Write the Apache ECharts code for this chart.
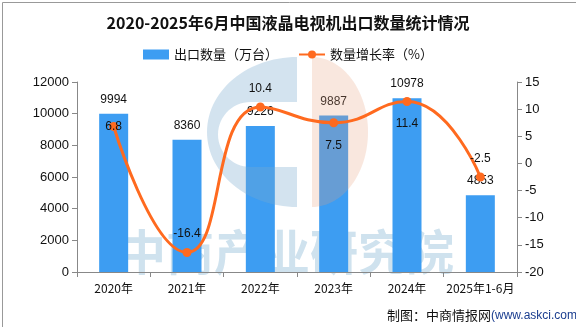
<!DOCTYPE html>
<html><head><meta charset="utf-8">
<script src="https://cdn.jsdelivr.net/npm/echarts@6/dist/echarts.min.js"></script>
<style>html,body{margin:0;padding:0;background:#fff}#c{width:576px;height:327px}</style>
</head><body><div id="c"></div>
<script>
var categories = ['2020年','2021年','2022年','2023年','2024年','2025年1-6月'];
var exportQty = [9994, 8360, 9226, 9887, 10978, 4853];
var growthRate = [6.8, -16.4, 10.4, 7.5, 11.4, -2.5];
var rateLabelPos = ['inside','top','top','bottom','bottom','top'];
var leftTicks = [0, 12000, 2000];
var rightTicks = [-20, 15, 5];

// decorative watermark logo outlines
function arcPts(cx, cy, rx, ry, a0, a1, n) {
  var p = [];
  for (var i = 0; i <= n; i++) {
    var a = a0 + (a1 - a0) * i / n;
    p.push([cx + rx * Math.cos(a), cy + ry * Math.sin(a)]);
  }
  return p;
}
var bluePts = [].concat(
  arcPts(297, 132, 90, 75, -Math.PI / 2, -Math.PI * 1.5, 60),
  [[297, 207], [297, 167], [250.5, 167]],
  arcPts(250.5, 134.5, 32.5, 32.5, Math.PI / 2, Math.PI * 1.5, 30),
  [[297, 102]]
);
var peachPts = arcPts(312, 132, 56, 75, -Math.PI / 2, Math.PI / 2, 60);

var chart = echarts.init(document.getElementById('c'), null, {renderer:'canvas'});
var font = '"Liberation Sans", "Noto Sans CJK SC", sans-serif';
var cjk = '"Noto Sans CJK SC", sans-serif';
var option = {
  backgroundColor:'#fff',
  animation:false,
  textStyle:{fontFamily:font},
  title:{text:'2020-2025年6月中国液晶电视机出口数量统计情况',left:'center',top:10,
    textStyle:{fontSize:16,fontWeight:'bold',color:'#111',fontFamily:cjk}},
  legend:{top:43,left:'center',itemGap:20,itemWidth:26,itemHeight:10,
    textStyle:{fontSize:13,color:'#111',fontFamily:cjk},
    data:[{name:'出口数量（万台）',icon:'rect'},{name:'数量增长率（%）'}]},
  grid:{left:77,right:59,top:82,bottom:55,containLabel:false},
  xAxis:{type:'category',data:categories,
    axisLine:{lineStyle:{color:'#888'}},axisTick:{show:true,lineStyle:{color:'#888'}},
    axisLabel:{color:'#111',fontSize:12,margin:10,interval:0,fontFamily:cjk}},
  yAxis:[
    {type:'value',min:leftTicks[0],max:leftTicks[1],interval:leftTicks[2],
     axisLine:{show:true,lineStyle:{color:'#888'}},axisTick:{show:true,lineStyle:{color:'#888'}},
     splitLine:{show:false},axisLabel:{color:'#111',fontSize:13,margin:8,formatter:function(v){return String(v);}}},
    {type:'value',min:rightTicks[0],max:rightTicks[1],interval:rightTicks[2],
     axisLine:{show:true,lineStyle:{color:'#888'}},axisTick:{show:true,lineStyle:{color:'#888'}},
     splitLine:{show:false},axisLabel:{color:'#111',fontSize:13,margin:8,formatter:function(v){return String(v);}}}
  ],
  graphic:[
    {type:'rect',left:0,top:0,shape:{x:0.5,y:0.5,width:575,height:326},style:{fill:'none',stroke:'#999',lineWidth:1},z:100,silent:true},
    {type:'text',x:118,y:228,z:-5,silent:true,
     style:{text:'中商产业研究院',font:'bold 48px "Noto Sans CJK SC", sans-serif',fill:'#cfe2ee'}},
    {type:'polygon',z:2,silent:true,shape:{points:bluePts},style:{fill:'rgba(120,170,205,0.33)'}},
    {type:'polygon',z:2,silent:true,shape:{points:peachPts},style:{fill:'rgba(230,160,125,0.25)'}},
    {type:'text',x:387,y:309,z:100,style:{
      text:'{a|制图：中商情报网}{b|(www.askci.com)}',
      rich:{a:{fontSize:13,fontFamily:cjk,fill:'#111'},
            b:{fontSize:12,fontFamily:'"Liberation Sans", sans-serif',fill:'#1a3d8f'}}}}
  ],
  series:[
    {name:'出口数量（万台）',type:'bar',data:exportQty,barWidth:29,yAxisIndex:0,z:1,
     itemStyle:{color:'#3d9df2'},
     label:{show:true,position:'top',distance:8,color:'#111',fontSize:12}},
    {name:'数量增长率（%）',type:'line',z:3,data:growthRate.map(function(v,i){
        return {value:v,label:{position:rateLabelPos[i],distance:rateLabelPos[i]==='bottom'?12:8}};}),
     yAxisIndex:1,smooth:0.5,symbol:'circle',symbolSize:9,
     lineStyle:{color:'#ff6a1f',width:3},itemStyle:{color:'#ff6a1f'},
     label:{show:true,color:'#111',fontSize:12}}
  ]
};
chart.setOption(option);
</script></body></html>
